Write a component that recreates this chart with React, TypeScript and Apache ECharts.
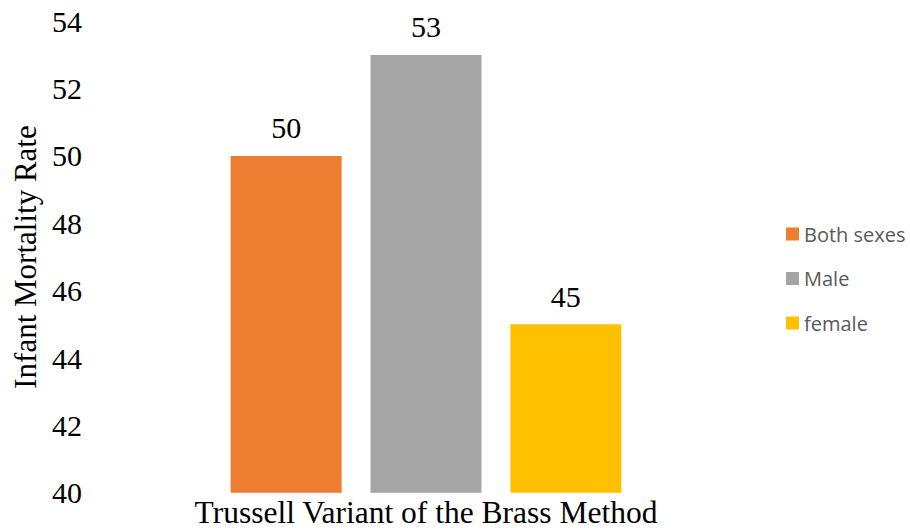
import React, { useEffect, useRef } from "react";
import * as echarts from "echarts";

const categories = ["Trussell Variant of the Brass Method"];
const seriesNames = ["Both sexes", "Male", "female"];
const seriesValues = [[50], [53], [45]];
const seriesColors = ["#ED7D31", "#A5A5A5", "#FFC000"];
const yMin = 40;
const yMax = 54;
const yInterval = 2;

export default function App() {
  const ref = useRef<HTMLDivElement>(null);
  useEffect(() => {
    if (!ref.current) return;
    const chart = echarts.init(ref.current, null, { renderer: "svg" });
    const serif = "'Liberation Serif', 'Times New Roman', serif";
    chart.setOption({
      animation: false,
      backgroundColor: "#ffffff",
      grid: { left: 100, right: 158, top: 21.3, bottom: 38.3, containLabel: false },
      legend: {
        orient: "vertical",
        left: 781,
        top: 219,
        itemWidth: 13,
        itemHeight: 13,
        itemGap: 24.5,
        icon: "rect",
        textStyle: { color: "#595959", fontSize: 20, fontFamily: "'Open Sans', 'Noto Sans', sans-serif" },
        data: seriesNames,
      },
      xAxis: {
        type: "category",
        data: categories,
        axisLine: { show: false },
        axisTick: { show: false },
        axisLabel: { color: "#000", fontSize: 31.5, lineHeight: 28, fontFamily: serif, margin: 6 },
      },
      yAxis: {
        type: "value",
        min: yMin,
        max: yMax,
        interval: yInterval,
        name: "Infant Mortality Rate",
        nameLocation: "middle",
        nameGap: 59,
        nameTextStyle: { color: "#000", fontSize: 31, fontFamily: serif },
        axisLine: { show: false },
        axisTick: { show: false },
        splitLine: { show: false },
        axisLabel: { color: "#000", fontSize: 30, fontFamily: serif, margin: 18 },
      },
      series: seriesNames.map((name, i) => ({
        name,
        type: "bar",
        data: seriesValues[i],
        barWidth: 111,
        barGap: "26%",
        itemStyle: { color: seriesColors[i] },
        label: {
          show: true,
          position: "top",
          distance: 13,
          color: "#000",
          fontSize: 30,
          fontFamily: serif,
        },
      })),
    });
    return () => chart.dispose();
  }, []);
  return <div ref={ref} style={{ width: 910, height: 531, position: "absolute", left: 0, top: 0 }} />;
}
